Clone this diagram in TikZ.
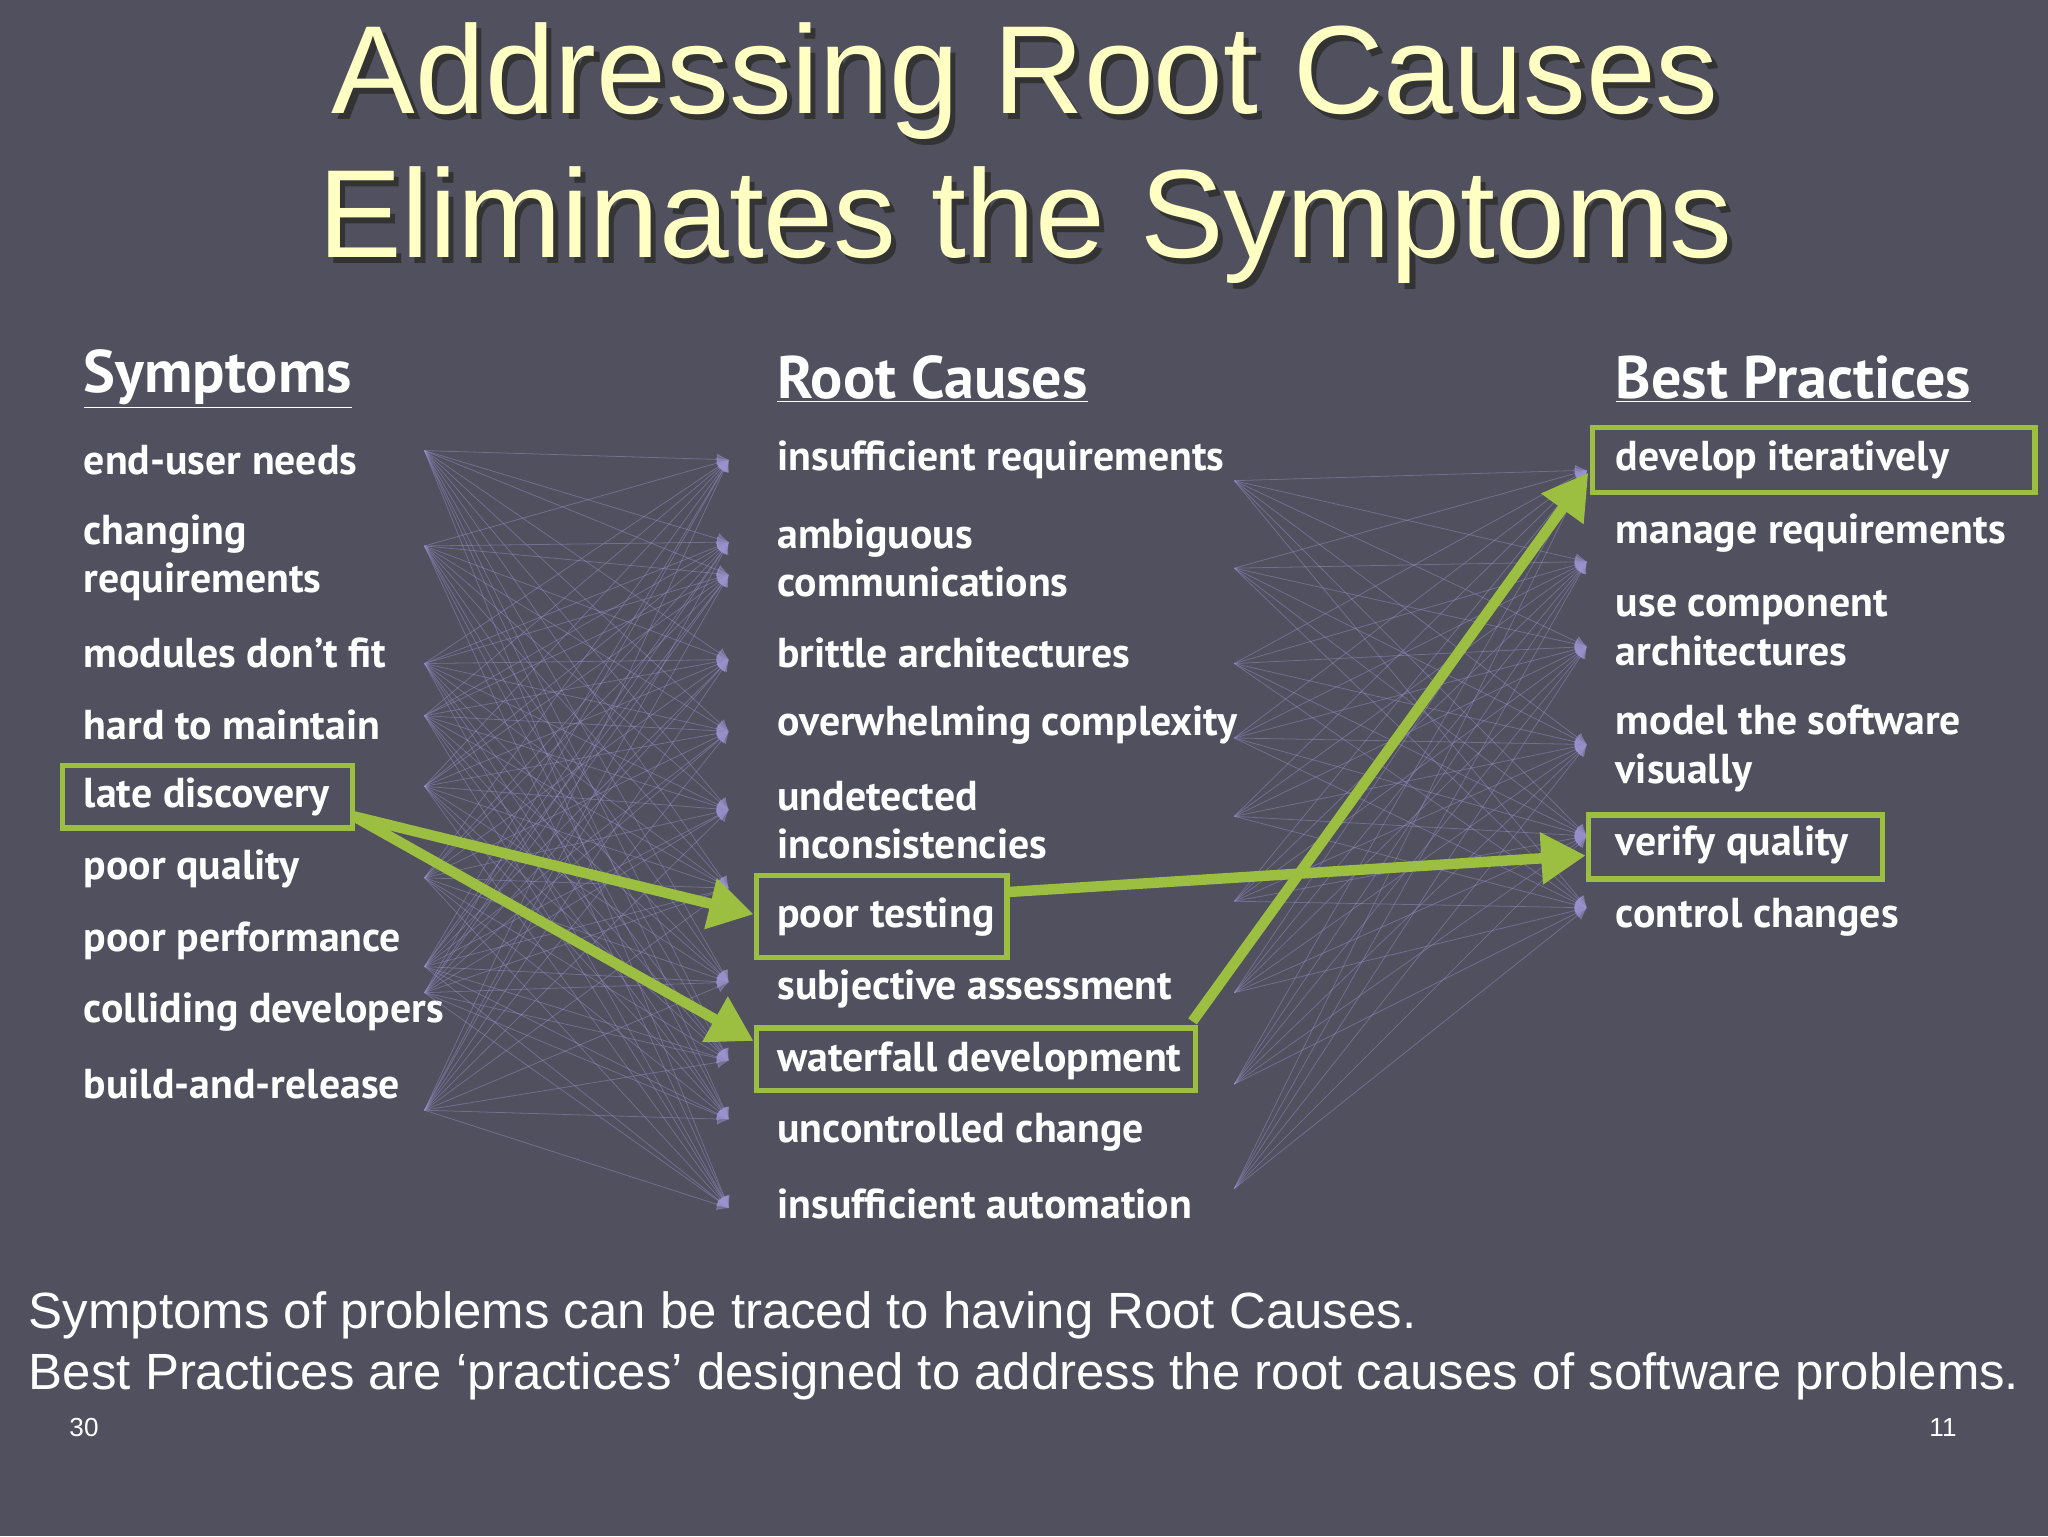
\documentclass[tikz,border=0pt]{standalone}
\usepackage{fontspec}
\setmainfont{Liberation Sans}
\newfontfamily\bodyf{PT Sans}
\usetikzlibrary{arrows.meta}
\definecolor{bg}{HTML}{50505E}
\definecolor{ttl}{HTML}{FFFFC4}
\definecolor{grn}{HTML}{9CBF42}
\definecolor{lav}{HTML}{9C94D0}
\begin{document}
\begin{tikzpicture}[x=1pt,y=-1pt,
  item/.style={anchor=west,text=white,font=\bodyf\bfseries\fontsize{32}{37}\selectfont,align=left,inner sep=0pt},
  hdr/.style={item,font=\bodyf\bfseries\fontsize{46}{50}\selectfont},
  gbox/.style={draw=grn,line width=4pt},
  garr/.style={draw=grn,line width=8pt,-{Triangle[length=34pt,width=38pt]}},
  thin/.style={draw=lav,line width=0.6pt,opacity=0.45,-{Latex[length=9pt,width=9pt]}},
  ttlf/.style={font=\fontsize{96}{110}\selectfont,align=center}]
\fill[bg] (0,0) rectangle (1568,1176);
\useasboundingbox (0,0) rectangle (1568,1176);
% title
\node[ttlf,text=black!80] (t1s) at (789,67) {Addressing Root Causes};
\node[ttlf,text=ttl] (t1) at (785,62) {Addressing Root Causes};
\node[ttlf,text=black!80] (t2s) at (789,177) {Eliminates the Symptoms};
\node[ttlf,text=ttl] (t2) at (785,172) {Eliminates the Symptoms};
% headers
\node[hdr] (h1) at (64,290) {\underline{Symptoms}};
\node[hdr] (h2) at (595,290) {\underline{Root Causes}};
\node[hdr] (h3) at (1237,290) {\underline{Best Practices}};
% symptoms
\node[item] (s1) at (64,352) {end-user needs};
\node[item] (s2) at (64,427) {changing\\requirements};
\node[item] (s3) at (64,500) {modules don’t fit};
\node[item] (s4) at (64,555) {hard to maintain};
\node[item] (s5) at (64,610) {late discovery};
\node[item] (s6) at (64,665) {poor quality};
\node[item] (s7) at (64,720) {poor performance};
\node[item] (s8) at (64,775) {colliding developers};
\node[item] (s9) at (64,830) {build-and-release};
% root causes
\node[item] (r1) at (595,352) {insufficient requirements};
\node[item] (r2) at (595,427) {ambiguous\\communications};
\node[item] (r3) at (595,500) {brittle architectures};
\node[item] (r4) at (595,555) {overwhelming complexity};
\node[item] (r5) at (595,628) {undetected\\inconsistencies};
\node[item] (r6) at (595,702) {poor testing};
\node[item] (r7) at (595,757) {subjective assessment};
\node[item] (r8) at (595,812) {waterfall development};
\node[item] (r9) at (595,867) {uncontrolled change};
\node[item] (r10) at (595,922) {insufficient automation};
% best practices
\node[item] (b1) at (1237,352) {develop iteratively};
\node[item] (b2) at (1237,408) {manage requirements};
\node[item] (b3) at (1237,481) {use component\\architectures};
\node[item] (b4) at (1237,573) {model the software\\visually};
\node[item] (b5) at (1237,647) {verify quality};
\node[item] (b6) at (1237,702) {control changes};
% thin connector mesh
\foreach \i/\ys in {1/345,2/418,3/508,4/548,5/602,6/672,7/740,8/760,9/850}{
  \coordinate (sa\i) at (325,\ys);}
\foreach \j/\yr in {1/352,2/415,3/440,4/505,5/560,6/620,7/680,8/752,9/812,10/857,11/925}{
  \coordinate (ra\j) at (558,\yr);}
\foreach \i in {1,...,9}{\foreach \j in {1,...,11}{\draw[thin] (sa\i) -- (ra\j);}}
\foreach \j/\yr in {1/368,2/435,3/508,4/565,5/625,6/690,7/760,8/830,9/910}{
  \coordinate (rb\j) at (945,\yr);}
\foreach \k/\yb in {1/360,2/430,3/495,4/570,5/640,6/695}{
  \coordinate (bb\k) at (1215,\yb);}
\foreach \j in {1,...,9}{\foreach \k in {1,...,6}{\draw[thin] (rb\j) -- (bb\k);}}
% highlight boxes
\draw[gbox] (48,586) rectangle (270,634);
\draw[gbox] (579,670) rectangle (771,733);
\draw[gbox] (579,787) rectangle (915,835);
\draw[gbox] (1219,327) rectangle (1558,377);
\draw[gbox] (1216,624) rectangle (1441,673);
\coordinate (c1) at (271,625);
\coordinate (c2) at (771,683);
\coordinate (c3) at (913,782);
\draw[garr] (c1) -- (577,700);
\draw[garr] (c1) -- (577,797);
\draw[garr] (c2) -- (1214,655);
\draw[garr] (c3) -- (1216,362);
% footer
\node[anchor=west,text=white,font=\fontsize{39}{44}\selectfont,inner sep=0pt] (f1) at (22,1007) {Symptoms of problems can be traced to having Root Causes.};
\node[anchor=west,text=white,font=\fontsize{39}{44}\selectfont,inner sep=0pt] (f2) at (22,1054) {Best Practices are ‘practices’ designed to address the root causes of software problems.};
\node[anchor=west,text=white,font=\fontsize{20}{24}\selectfont,inner sep=0pt] (n1) at (53,1093) {30};
\node[anchor=west,text=white,font=\fontsize{20}{24}\selectfont,inner sep=0pt] (n2) at (1477,1093) {11};
\end{tikzpicture}
\end{document}
